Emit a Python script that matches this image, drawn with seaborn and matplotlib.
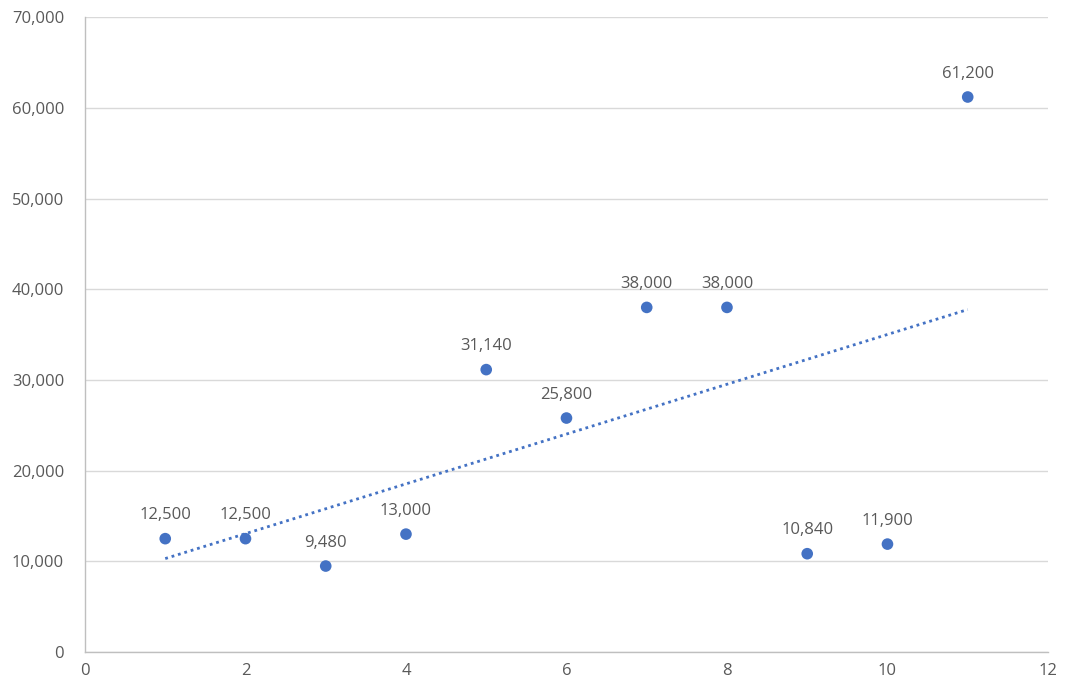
import numpy as np
import pandas as pd
import matplotlib
matplotlib.use("Agg")
import matplotlib.pyplot as plt
import seaborn as sns
from matplotlib.ticker import FuncFormatter, MultipleLocator

x_vals = [1, 2, 3, 4, 5, 6, 7, 8, 9, 10, 11]
y_vals = [12500, 12500, 9480, 13000, 31140, 25800, 38000, 38000, 10840, 11900, 61200]

blue = "#4472C4"
grey_text = "#595959"
grid_col = "#D9D9D9"

sns.set_style("white")
plt.rcParams["font.family"] = ["Open Sans", "DejaVu Sans"]

df = pd.DataFrame({"x": x_vals, "y": y_vals})

fig = plt.figure(figsize=(10.65, 6.88), dpi=100)
ax = fig.add_axes([0.0798, 0.0523, 0.9042, 0.9227])

# trendline (linear fit)
sns.regplot(data=df, x="x", y="y", scatter=False, ci=None, ax=ax,
            line_kws=dict(color=blue, linestyle=(0, (1, 1.4)), linewidth=2))
sns.scatterplot(data=df, x="x", y="y", ax=ax, color=blue, s=70,
                edgecolor="none", zorder=3)

for xv, yv in zip(x_vals, y_vals):
    ax.annotate(f"{yv:,}", (xv, yv), xytext=(0, 11), textcoords="offset points",
                ha="center", va="bottom", fontsize=12, color=grey_text)

ax.set_xlim(0, 12)
ax.set_ylim(0, 70000)
ax.xaxis.set_major_locator(MultipleLocator(2))
ax.yaxis.set_major_locator(MultipleLocator(10000))
ax.yaxis.set_major_formatter(FuncFormatter(lambda v, p: f"{int(v):,}"))
ax.set_xlabel("")
ax.set_ylabel("")

ax.grid(axis="y", color=grid_col, linewidth=1)
ax.set_axisbelow(True)
for s in ["top", "right"]:
    ax.spines[s].set_visible(False)
for s in ["left", "bottom"]:
    ax.spines[s].set_color("#BFBFBF")
    ax.spines[s].set_linewidth(1)
ax.tick_params(axis="both", direction="out", length=5, width=1, color="#BFBFBF",
               labelcolor=grey_text, labelsize=12, pad=3)
ax.tick_params(axis="y", pad=10)

fig.savefig("out.png", dpi=100)
